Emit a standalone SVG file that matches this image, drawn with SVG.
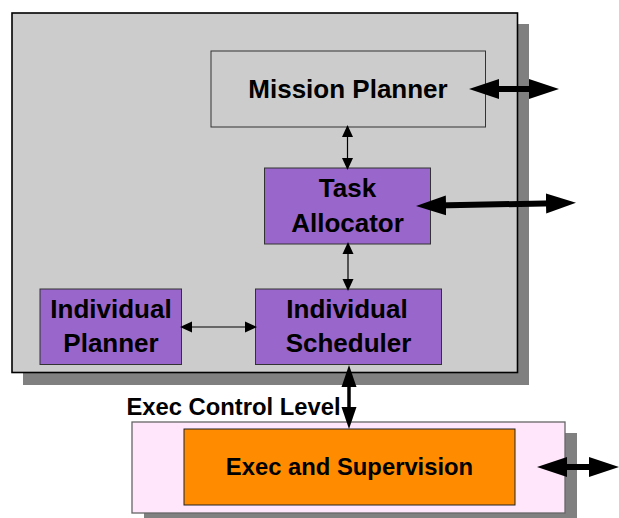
<svg xmlns="http://www.w3.org/2000/svg" width="619" height="518" viewBox="0 0 619 518">
<style>
.shadow{fill:#808080;stroke:none}
.frame{fill:#cccccc;stroke:#000;stroke-width:1.6}
.gbox{fill:#cccccc;stroke:#333;stroke-width:1}
.pbox{fill:#9966cc;stroke:#333;stroke-width:1}
.pink{fill:#ffe6fb;stroke:#666;stroke-width:1.3}
.obox{fill:#ff8c00;stroke:#222;stroke-width:1}
text{font-family:"Liberation Sans",Arial,Helvetica,sans-serif;font-weight:bold;fill:#000;text-anchor:middle}
.t26{font-size:26px}
.t24{font-size:23.8px}
.big{stroke:#000;stroke-width:6;fill:none;marker-start:url(#bigHead);marker-end:url(#bigHead)}
.mid{stroke:#000;stroke-width:3.5;fill:none;marker-start:url(#midHead);marker-end:url(#midHead)}
.small{stroke:#000;stroke-width:1.2;fill:none;marker-start:url(#smallHead);marker-end:url(#smallHead)}
</style>
<defs>
<marker id="bigHead" markerUnits="userSpaceOnUse" viewBox="0 0 30 22" markerWidth="30" markerHeight="22" refX="10" refY="11" orient="auto-start-reverse"><path d="M0,1 L30,11 L0,21 Z" fill="#000"/></marker>
<marker id="midHead" markerUnits="userSpaceOnUse" viewBox="0 0 22 16" markerWidth="22" markerHeight="16" refX="8" refY="8" orient="auto-start-reverse"><path d="M0,0.5 L22,8 L0,15.5 Z" fill="#000"/></marker>
<marker id="smallHead" markerUnits="userSpaceOnUse" viewBox="0 0 12 12" markerWidth="12" markerHeight="12" refX="5" refY="6" orient="auto-start-reverse"><path d="M0,0.5 L12,6 L0,11.5 Z" fill="#000"/></marker>
</defs>

<g id="upper-level">
<rect class="shadow" x="23" y="24" width="506" height="361"/>
<rect class="frame" x="12" y="13" width="505.5" height="359.5"/>
</g>

<g id="mission-planner">
<rect class="gbox" x="211" y="51" width="274.5" height="76"/>
<text class="t26" x="348" y="98">Mission Planner</text>
</g>

<g id="task-allocator">
<rect class="pbox" x="264.5" y="168" width="166" height="76"/>
<text class="t26" x="347.5" y="197">Task</text>
<text class="t26" x="347.5" y="232">Allocator</text>
</g>

<g id="individual-planner">
<rect class="pbox" x="40" y="289" width="141.5" height="75.5"/>
<text class="t26" x="111" y="317.5">Individual</text>
<text class="t26" x="111" y="352">Planner</text>
</g>

<g id="individual-scheduler">
<rect class="pbox" x="255.5" y="289" width="186" height="75.5"/>
<text class="t26" x="347" y="318">Individual</text>
<text class="t26" x="348.5" y="352">Scheduler</text>
</g>

<g id="exec-level">
<rect class="shadow" x="144" y="433" width="433" height="85"/>
<rect class="pink" x="132" y="422" width="433" height="91"/>
<text class="t24" x="233.5" y="415">Exec Control Level</text>
</g>

<g id="exec-supervision">
<rect class="obox" x="184" y="429" width="331" height="76"/>
<text class="t24" x="349.5" y="475">Exec and Supervision</text>
</g>

<g id="connectors">
<line class="small" x1="347.5" y1="132" x2="347.5" y2="163"/>
<line class="small" x1="348" y1="249" x2="348" y2="284"/>
<line class="small" x1="187" y1="327" x2="250" y2="327"/>
<line class="mid" x1="349" y1="379" x2="349" y2="415"/>
<line class="big" x1="489" y1="89" x2="539" y2="89"/>
<line class="big" x1="436" y1="205.6" x2="556" y2="203.2"/>
<line class="big" x1="557" y1="467" x2="599" y2="467"/>
</g>
</svg>
